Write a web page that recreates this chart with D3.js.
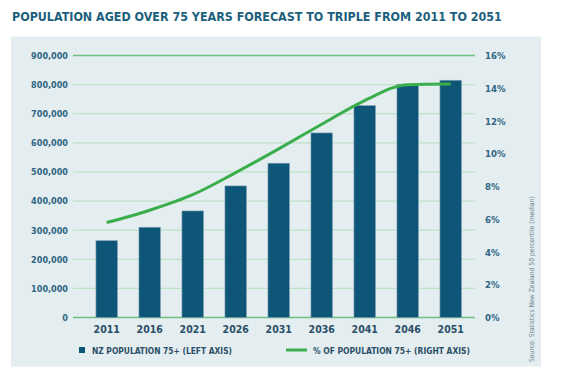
<!DOCTYPE html>
<html>
<head>
<meta charset="utf-8">
<script src="https://cdn.jsdelivr.net/npm/d3@7"></script>
<style>
  body { margin: 0; background: #fff; }
  svg text { font-family: "DejaVu Sans Condensed", "Liberation Sans Narrow", sans-serif; font-weight: bold; }
</style>
</head>
<body>
<svg id="chart" width="564" height="371"></svg>
<script>
// data
var years = ["2011", "2016", "2021", "2026", "2031", "2036", "2041", "2046", "2051"];
var population = [264000, 310000, 366000, 452000, 530000, 634000, 728000, 801000, 815000];
var percent = [5.8, 6.55, 7.5, 8.85, 10.3, 11.8, 13.25, 14.22, 14.26];
var leftTicks = [0, 100000, 200000, 300000, 400000, 500000, 600000, 700000, 800000, 900000];
var rightTicks = [0, 2, 4, 6, 8, 10, 12, 14, 16];

var svg = d3.select("#chart");

var top0 = 55.5, bottom0 = 317.5;
var gridLeft = 73, gridRight = 475;

// panel
svg.append("rect")
  .attr("x", 11).attr("y", 36.5)
  .attr("width", 530).attr("height", 330)
  .attr("fill", "#e4edf0");

// title
svg.append("text")
  .attr("x", 12).attr("y", 21)
  .style("font-size", "12.4px")
  .style("fill", "#1c5f7c")
  .text("POPULATION AGED OVER 75 YEARS FORECAST TO TRIPLE FROM 2011 TO 2051");

var x = d3.scaleBand()
  .domain(years)
  .range([85.2, 85.2 + 9 * 43])
  .paddingInner(0.5)
  .paddingOuter(0.25);

var yLeft = d3.scaleLinear().domain([0, 900000]).range([bottom0, top0]);
var yRight = d3.scaleLinear().domain([0, 16]).range([bottom0, top0]);

// gridlines
svg.append("g")
  .selectAll("line")
  .data(leftTicks)
  .enter()
  .append("line")
  .attr("x1", gridLeft).attr("x2", gridRight)
  .attr("y1", function(d) { return yLeft(d); })
  .attr("y2", function(d) { return yLeft(d); })
  .style("stroke", function(d) { return (d == 0 || d == 900000) ? "#6fc180" : "#bde2c6"; })
  .style("stroke-width", 1.3);

// left axis labels
var leftAxis = svg.append("g")
  .attr("transform", "translate(" + gridLeft + ",0)")
  .call(d3.axisLeft(yLeft).tickValues(leftTicks).tickSize(0).tickPadding(5)
    .tickFormat(d3.format(",")));
leftAxis.select(".domain").remove();
leftAxis.selectAll("text")
  .style("font-size", "9px")
  .style("fill", "#2f6482");

// right axis labels
var rightAxis = svg.append("g")
  .attr("transform", "translate(485,0)")
  .call(d3.axisRight(yRight).tickValues(rightTicks).tickSize(0).tickPadding(0)
    .tickFormat(function(d) { return d + "%"; }));
rightAxis.select(".domain").remove();
rightAxis.selectAll("text")
  .style("font-size", "9.5px")
  .style("fill", "#2f6482");

// x labels
var xAxis = svg.append("g")
  .attr("transform", "translate(0," + bottom0 + ")")
  .call(d3.axisBottom(x).tickSize(0).tickPadding(8));
xAxis.select(".domain").remove();
xAxis.selectAll("text")
  .style("font-size", "10.5px")
  .style("fill", "#2b4f66");

// bars
svg.append("g")
  .selectAll("rect")
  .data(years)
  .enter()
  .append("rect")
  .attr("x", function(d) { return x(d); })
  .attr("y", function(d, i) { return yLeft(population[i]); })
  .attr("width", x.bandwidth())
  .attr("height", function(d, i) { return bottom0 - yLeft(population[i]); })
  .style("fill", "#0e5677")
  .style("stroke", "#7fa3b5")
  .style("stroke-width", 0.6);

// line
var line = d3.line()
  .x(function(d, i) { return x(years[i]) + x.bandwidth() / 2; })
  .y(function(d) { return yRight(d); })
  .curve(d3.curveMonotoneX);

svg.append("path")
  .datum(percent)
  .attr("d", line)
  .style("fill", "none")
  .style("stroke", "#3aae4b")
  .style("stroke-width", 3);

// legend
svg.append("rect")
  .attr("x", 79).attr("y", 347)
  .attr("width", 6).attr("height", 6)
  .style("fill", "#0e5677");
svg.append("text")
  .attr("x", 92).attr("y", 354)
  .attr("textLength", 140)
  .attr("lengthAdjust", "spacingAndGlyphs")
  .style("font-size", "9.5px")
  .style("fill", "#2b4f66")
  .text("NZ POPULATION 75+ (LEFT AXIS)");

svg.append("line")
  .attr("x1", 286).attr("x2", 307)
  .attr("y1", 350).attr("y2", 350)
  .style("stroke", "#3aae4b")
  .style("stroke-width", 3);
svg.append("text")
  .attr("x", 313).attr("y", 354)
  .attr("textLength", 157)
  .attr("lengthAdjust", "spacingAndGlyphs")
  .style("font-size", "9.5px")
  .style("fill", "#2b4f66")
  .text("% OF POPULATION 75+ (RIGHT AXIS)");

// source
svg.append("text")
  .attr("transform", "translate(534,362)rotate(-90)")
  .style("font-size", "6.75px")
  .style("font-weight", "normal")
  .style("fill", "#6a8796")
  .text("Source: Statistics New Zealand 50 percentile (median)");
</script>
</body>
</html>
